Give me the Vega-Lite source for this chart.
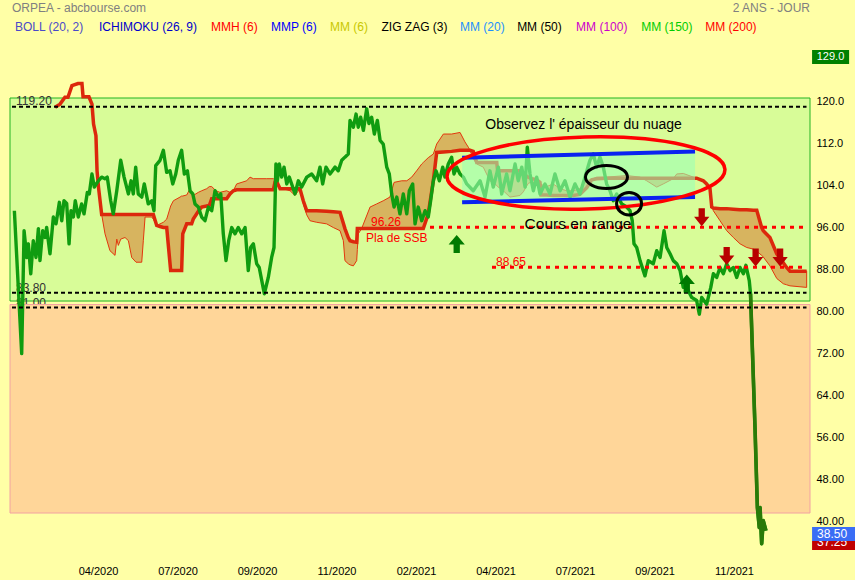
{
"$schema": "https://vega.github.io/schema/vega-lite/v6.json",
"width": 808, "height": 499,
"autosize": {"type": "none"},
"padding": {"left": 0, "top": 50, "right": 47, "bottom": 31},
"background": "#FFFFA6",
"config": {"view": {"stroke": null}, "font": "Liberation Sans"},
"datasets": {
"price": [
{"d":-2.6,"v":99.4},{"d":2.0,"v":72.2},{"d":3.5,"v":95.6},{"d":5.2,"v":90.5},{"d":6.2,"v":93.1},{"d":7.7,"v":87.4},{"d":9.3,"v":93.7},{"d":11.0,"v":90.5},{"d":12.5,"v":96},{"d":13.5,"v":89.9},{"d":15.2,"v":95.6},{"d":16.7,"v":94.3},{"d":17.7,"v":96.2},{"d":19.8,"v":91.2},{"d":21.9,"v":98.2},{"d":23.6,"v":96.9},{"d":25.7,"v":101},{"d":27.2,"v":97.5},{"d":28.6,"v":101.3},{"d":30.3,"v":100.8},{"d":31.8,"v":93.1},{"d":33.0,"v":99.4},{"d":34.5,"v":98.2},{"d":35.7,"v":101.3},{"d":37.6,"v":98.2},{"d":39.7,"v":100.7},{"d":41.2,"v":98.8},{"d":43.3,"v":102.9},{"d":44.5,"v":102.6},{"d":46.2,"v":106.4},{"d":47.7,"v":103.9},{"d":50.2,"v":105.1},{"d":52.3,"v":105.8},{"d":54.4,"v":105.5},{"d":55.8,"v":105.8},{"d":58.0,"v":101.3},{"d":59.6,"v":98.8},{"d":61.8,"v":103.2},{"d":64.3,"v":109},{"d":66.4,"v":105.8},{"d":69.1,"v":102.6},{"d":70.8,"v":105.1},{"d":72.2,"v":102.6},{"d":73.7,"v":107.7},{"d":75.3,"v":102.6},{"d":77.5,"v":102},{"d":79.1,"v":104.5},{"d":81.6,"v":100.7},{"d":83.8,"v":101.3},{"d":85.2,"v":99.4},{"d":86.3,"v":108},{"d":89.0,"v":109},{"d":91.1,"v":110.9},{"d":93.2,"v":106.7},{"d":95.3,"v":107},{"d":97.0,"v":104.5},{"d":98.9,"v":106.4},{"d":100.5,"v":109},{"d":102.6,"v":110.9},{"d":104.3,"v":106.4},{"d":106.2,"v":107},{"d":107.9,"v":103.2},{"d":109.6,"v":102.6},{"d":111.0,"v":100.7},{"d":113.1,"v":100.1},{"d":115.2,"v":98.2},{"d":117.3,"v":97.5},{"d":119.4,"v":100.1},{"d":121.5,"v":99.4},{"d":123.6,"v":103.2},{"d":125.7,"v":102},{"d":127.2,"v":102.6},{"d":128.8,"v":95},{"d":130.5,"v":89.9},{"d":132.2,"v":93.7},{"d":134.1,"v":96.2},{"d":136.2,"v":95},{"d":138.2,"v":96.2},{"d":140.4,"v":95},{"d":142.5,"v":96.2},{"d":144.5,"v":88},{"d":146.0,"v":92.4},{"d":147.7,"v":93.1},{"d":149.8,"v":89.3},{"d":151.4,"v":88.6},{"d":153.0,"v":86.1},{"d":154.6,"v":83.6},{"d":157.1,"v":86.7},{"d":159.2,"v":90.5},{"d":160.7,"v":92.4},{"d":161.9,"v":108.3},{"d":162.8,"v":105.1},{"d":164.0,"v":108.3},{"d":165.5,"v":105.8},{"d":167.0,"v":107.7},{"d":168.7,"v":104.5},{"d":170.3,"v":105.8},{"d":171.8,"v":104.5},{"d":173.9,"v":102.6},{"d":176.0,"v":105.1},{"d":178.1,"v":103.9},{"d":181.3,"v":105.8},{"d":184.4,"v":106.4},{"d":187.5,"v":105.1},{"d":189.6,"v":107.7},{"d":191.3,"v":104.5},{"d":193.4,"v":107.7},{"d":195.9,"v":106.4},{"d":199.1,"v":107.7},{"d":201.1,"v":107},{"d":203.3,"v":109},{"d":205.3,"v":109.6},{"d":207.4,"v":110.2},{"d":208.5,"v":116.6},{"d":210.6,"v":115.3},{"d":212.3,"v":117.8},{"d":213.7,"v":115.3},{"d":215.2,"v":117.2},{"d":216.9,"v":114.7},{"d":219.0,"v":118.8},{"d":220.4,"v":116},{"d":222.1,"v":117.2},{"d":223.8,"v":114},{"d":225.7,"v":116.6},{"d":227.4,"v":112.8},{"d":229.4,"v":112.1},{"d":231.6,"v":107.7},{"d":233.2,"v":106.4},{"d":234.7,"v":102.6},{"d":236.2,"v":100.1},{"d":237.9,"v":102},{"d":239.9,"v":98.8},{"d":242.0,"v":102.6},{"d":244.2,"v":98.8},{"d":245.8,"v":103.2},{"d":247.9,"v":104.5},{"d":249.4,"v":96.9},{"d":251.4,"v":100.1},{"d":253.6,"v":97.5},{"d":255.7,"v":99.4},{"d":257.7,"v":98.2},{"d":259.2,"v":101.3},{"d":260.9,"v":105.1},{"d":262.6,"v":107},{"d":264.7,"v":105.1},{"d":266.8,"v":107.7},{"d":268.2,"v":105.8},{"d":270.3,"v":108.3},{"d":272.4,"v":109.6},{"d":273.9,"v":106.4},{"d":275.6,"v":107.7},{"d":277.7,"v":106.4},{"d":279.8,"v":105.8},{"d":281.9,"v":104.5},{"d":286.0,"v":103.2},{"d":290.3,"v":105.1},{"d":293.4,"v":102},{"d":296.5,"v":107},{"d":298.6,"v":103.9},{"d":301.8,"v":107.7},{"d":303.9,"v":102.6},{"d":307.0,"v":106.4},{"d":309.1,"v":103.2},{"d":312.3,"v":108.3},{"d":314.3,"v":105.1},{"d":316.5,"v":107.7},{"d":318.6,"v":103.9},{"d":320.0,"v":111.5},{"d":321.7,"v":106.4},{"d":323.8,"v":103.2},{"d":325.9,"v":105.8},{"d":328.0,"v":102.6},{"d":331.1,"v":104.5},{"d":334.3,"v":102.6},{"d":337.4,"v":106.4},{"d":340.6,"v":103.2},{"d":343.7,"v":105.1},{"d":346.9,"v":102},{"d":350.0,"v":104.5},{"d":353.1,"v":102.6},{"d":356.3,"v":105.8},{"d":359.4,"v":109},{"d":361.5,"v":110.2},{"d":363.6,"v":107.7},{"d":365.7,"v":109.6},{"d":367.8,"v":107.7},{"d":369.9,"v":104.5},{"d":372.0,"v":103.2},{"d":374.1,"v":101.3},{"d":376.2,"v":102.6},{"d":379.4,"v":100.7},{"d":382.5,"v":100.1},{"d":384.6,"v":99.4},{"d":386.0,"v":97.5},{"d":387.1,"v":93.1},{"d":388.8,"v":92.4},{"d":390.9,"v":89.9},{"d":394.0,"v":87},{"d":396.1,"v":89.9},{"d":399.2,"v":89.3},{"d":401.4,"v":91.8},{"d":403.5,"v":90.5},{"d":406.0,"v":95.6},{"d":407.7,"v":92.4},{"d":409.8,"v":91.2},{"d":411.8,"v":89.9},{"d":414.0,"v":89.3},{"d":416.1,"v":88},{"d":418.1,"v":84.8},{"d":420.3,"v":84.8},{"d":423.4,"v":82.9},{"d":426.5,"v":82.3},{"d":428.2,"v":79.7},{"d":429.7,"v":82.9},{"d":432.8,"v":81.6},{"d":435.4,"v":84.8},{"d":437.0,"v":87.4},{"d":439.1,"v":86.7},{"d":441.2,"v":88.6},{"d":443.3,"v":87.4},{"d":445.4,"v":89.3},{"d":447.5,"v":88},{"d":449.6,"v":88.6},{"d":451.7,"v":86.7},{"d":453.8,"v":88.6},{"d":455.9,"v":87.4},{"d":457.5,"v":89},{"d":459.6,"v":86.1},{"d":460.4,"v":83.6},{"d":461.1,"v":77.2},{"d":463.2,"v":58.2},{"d":464.7,"v":42.9},{"d":465.9,"v":39.1},{"d":466.4,"v":42.9},{"d":467.4,"v":36},{"d":468.4,"v":40.4},{"d":470.1,"v":38.5}
],
"crash": [
{"d":460.4,"v":83.6},{"d":461.1,"v":77.2},{"d":463.2,"v":58.2},{"d":464.7,"v":42.9},{"d":465.9,"v":39.1},{"d":466.4,"v":42.9},{"d":467.4,"v":36},{"d":468.4,"v":40.4},{"d":470.1,"v":38.5}
],
"cloud": [
{"d":23.0,"v":119.1,"v2":119.1},{"d":26.1,"v":119.7,"v2":119.7},{"d":29.2,"v":121,"v2":121},{"d":31.1,"v":121,"v2":121},{"d":33.6,"v":123.2,"v2":123.2},{"d":37.4,"v":123.6,"v2":123.6},{"d":39.9,"v":123.6,"v2":123.6},{"d":40.6,"v":121.1,"v2":121.1},{"d":44.3,"v":121.1,"v2":121.1},{"d":46.2,"v":119.7,"v2":119.7},{"d":47.2,"v":115.9,"v2":115.9},{"d":48.7,"v":113.7,"v2":113.7},{"d":49.4,"v":107,"v2":107},{"d":50.3,"v":103.9,"v2":103.9},{"d":52.3,"v":98.7,"v2":98.7},{"d":54.4,"v":98.7,"v2":95},{"d":57.5,"v":98.7,"v2":91.8},{"d":60.7,"v":98.7,"v2":90.9},{"d":61.8,"v":98.7,"v2":94},{"d":62.8,"v":98.7,"v2":92.8},{"d":64.3,"v":98.7,"v2":94},{"d":67.0,"v":98.7,"v2":94.3},{"d":69.1,"v":98.7,"v2":93.7},{"d":71.2,"v":98.7,"v2":90.5},{"d":73.9,"v":98.7,"v2":89.6},{"d":77.5,"v":98.7,"v2":89.6},{"d":78.5,"v":98.7,"v2":93.7},{"d":79.6,"v":98.7,"v2":98.2},{"d":83.8,"v":98.7,"v2":98.2},{"d":84.8,"v":98.7,"v2":97.8},{"d":86.9,"v":96.6,"v2":96.6},{"d":89.0,"v":96.4,"v2":96.9},{"d":91.1,"v":96.2,"v2":97.2},{"d":93.2,"v":96.2,"v2":97.8},{"d":95.7,"v":88,"v2":100.3},{"d":97.4,"v":88,"v2":101.3},{"d":101.6,"v":88,"v2":102},{"d":102.6,"v":88,"v2":102.2},{"d":103.3,"v":95,"v2":102.2},{"d":105.8,"v":96.9,"v2":102.4},{"d":107.9,"v":96.9,"v2":103.6},{"d":108.9,"v":96.9,"v2":102.8},{"d":109.9,"v":97.8,"v2":102.3},{"d":113.1,"v":99.3,"v2":102.9},{"d":115.2,"v":100.1,"v2":103.2},{"d":118.4,"v":100.3,"v2":103.6},{"d":120.0,"v":100.4,"v2":104},{"d":121.5,"v":101.7,"v2":104},{"d":124.2,"v":101.7,"v2":103.2},{"d":126.7,"v":101.7,"v2":102.9},{"d":130.9,"v":101.7,"v2":103.2},{"d":133.0,"v":102.6,"v2":102.9},{"d":135.1,"v":103.2,"v2":103.2},{"d":137.2,"v":103.4,"v2":104.5},{"d":143.5,"v":103.4,"v2":105.1},{"d":145.6,"v":103.4,"v2":105.8},{"d":147.7,"v":103.4,"v2":105.5},{"d":156.1,"v":103.4,"v2":105.5},{"d":160.3,"v":103.4,"v2":105.5},{"d":161.3,"v":104.8,"v2":105.3},{"d":162.6,"v":104.8,"v2":104.5},{"d":164.5,"v":103.6,"v2":103.8},{"d":166.5,"v":103.6,"v2":103.6},{"d":170.8,"v":103.6,"v2":103.2},{"d":173.9,"v":103.6,"v2":102.3},{"d":177.0,"v":103.6,"v2":103.6},{"d":179.1,"v":101.3,"v2":100.7},{"d":181.3,"v":99.4,"v2":98.6},{"d":183.3,"v":99.4,"v2":97.5},{"d":187.5,"v":99.4,"v2":97.2},{"d":193.8,"v":99.3,"v2":96.9},{"d":198.0,"v":99.2,"v2":96.2},{"d":202.2,"v":99.1,"v2":95.6},{"d":204.3,"v":97,"v2":93.7},{"d":205.3,"v":96,"v2":89.9},{"d":207.4,"v":94.3,"v2":89.3},{"d":208.5,"v":93.7,"v2":89.1},{"d":210.6,"v":93.5,"v2":88.9},{"d":212.7,"v":93.4,"v2":89.9},{"d":213.1,"v":96,"v2":92},{"d":213.7,"v":96,"v2":95},{"d":215.8,"v":96,"v2":96},{"d":221.1,"v":96,"v2":100.1},{"d":225.3,"v":96,"v2":100.7},{"d":229.4,"v":96,"v2":101.3},{"d":233.6,"v":96,"v2":102},{"d":236.2,"v":96,"v2":104.8},{"d":241.0,"v":96,"v2":105.1},{"d":244.2,"v":96,"v2":105.1},{"d":247.3,"v":96,"v2":105.8},{"d":250.4,"v":96,"v2":107},{"d":253.6,"v":96,"v2":108.3},{"d":254.6,"v":96,"v2":108.6},{"d":257.7,"v":98.8,"v2":109.5},{"d":260.9,"v":105.1,"v2":110.2},{"d":263.0,"v":110.5,"v2":112.1},{"d":267.2,"v":110.6,"v2":114},{"d":272.4,"v":110.7,"v2":114},{"d":277.7,"v":110.9,"v2":114.3},{"d":280.8,"v":110.9,"v2":112.5},{"d":282.9,"v":110.9,"v2":111.5},{"d":284.0,"v":110.9,"v2":110.9},{"d":286.0,"v":110.7,"v2":109.3},{"d":288.2,"v":108.6,"v2":108.3},{"d":292.3,"v":108.6,"v2":107.7},{"d":296.5,"v":108.6,"v2":105.1},{"d":300.8,"v":108.6,"v2":104.2},{"d":301.3,"v":107,"v2":104},{"d":304.9,"v":107,"v2":103.2},{"d":309.1,"v":107,"v2":102},{"d":315.4,"v":107,"v2":102.3},{"d":317.5,"v":106.4,"v2":103},{"d":320.6,"v":105.8,"v2":104.6},{"d":322.8,"v":105.5,"v2":104.9},{"d":325.9,"v":105.3,"v2":104.5},{"d":328.0,"v":104.8,"v2":104.5},{"d":328.6,"v":102.4,"v2":104.4},{"d":332.2,"v":102.4,"v2":104},{"d":336.3,"v":102.3,"v2":104.5},{"d":340.6,"v":102.3,"v2":103.6},{"d":344.8,"v":102.3,"v2":103.2},{"d":348.9,"v":102.3,"v2":103.2},{"d":353.1,"v":102.5,"v2":103.6},{"d":357.4,"v":103.8,"v2":105.1},{"d":360.5,"v":105.3,"v2":105.4},{"d":363.6,"v":105.5,"v2":105.8},{"d":369.9,"v":105.6,"v2":105.8},{"d":382.5,"v":105.6,"v2":106.1},{"d":390.9,"v":105.6,"v2":105.8},{"d":395.1,"v":105.6,"v2":105.1},{"d":401.4,"v":105.6,"v2":103.9},{"d":405.5,"v":105.6,"v2":104.5},{"d":411.8,"v":105.6,"v2":105.5},{"d":414.0,"v":105.6,"v2":106.4},{"d":418.1,"v":105.6,"v2":106.5},{"d":424.4,"v":105.6,"v2":105.8},{"d":426.5,"v":105.6,"v2":105.6},{"d":430.7,"v":105.1,"v2":105.1},{"d":432.8,"v":104.5,"v2":104.6},{"d":434.9,"v":103.6,"v2":103.8},{"d":436.0,"v":100.1,"v2":101.3},{"d":437.0,"v":99.9,"v2":99.4},{"d":441.2,"v":99.8,"v2":97.5},{"d":445.4,"v":99.8,"v2":95.6},{"d":449.6,"v":99.7,"v2":94.3},{"d":453.8,"v":99.6,"v2":93.1},{"d":458.0,"v":99.6,"v2":92.4},{"d":462.1,"v":99.5,"v2":92.1},{"d":464.3,"v":99.5,"v2":91.7},{"d":467.4,"v":96.2,"v2":90.9},{"d":468.4,"v":95.6,"v2":90.6},{"d":472.6,"v":94.3,"v2":88.9},{"d":476.9,"v":91.2,"v2":86.5},{"d":481.0,"v":89.5,"v2":85.5},{"d":483.1,"v":88.6,"v2":85.3},{"d":485.2,"v":87.9,"v2":85.1},{"d":495.7,"v":87.9,"v2":84.8}
]
},
"encoding": {
"x": {"field": "d", "type": "quantitative", "scale": {"domain": [-11.64, 496.54], "nice": false, "zero": false},
 "axis": {"values": [50,100,150,200,250,300,350,400,450], "labelExpr": "datum.value == 50 ? '04/2020' : datum.value == 100 ? '07/2020' : datum.value == 150 ? '09/2020' : datum.value == 200 ? '11/2020' : datum.value == 250 ? '02/2021' : datum.value == 300 ? '04/2021' : datum.value == 350 ? '07/2021' : datum.value == 400 ? '09/2021' : '11/2021'", "domain": false, "ticks": false, "grid": false, "title": null, "labelPadding": 16, "labelFontSize": 11, "labelColor": "#000000", "labelFont": "Liberation Sans"}},
"y": {"field": "v", "type": "quantitative", "scale": {"domain": [35, 130], "nice": false, "zero": false},
 "axis": {"orient": "right", "values": [40,48,56,64,72,80,88,96,104,112,120], "labelExpr": "datum.value >= 104 ? format(datum.value, '.1f') : format(datum.value, '.2f')", "domain": false, "ticks": false, "grid": false, "title": null, "labelPadding": 8, "labelFontSize": 11, "labelColor": "#000000", "labelFont": "Liberation Sans", "labelOffset": -1}}
},
"layer": [
{"data": {"values": [{"d": -5.35, "d2": 497.8, "v": 120.86, "v2": 82.21}]},
 "mark": {"type": "rect", "fill": "#D8FC98", "stroke": "#22B422", "strokeWidth": 1},
 "encoding": {"x2": {"field": "d2"}, "y2": {"field": "v2"}}},
{"data": {"values": [{"d": -1.57, "v": 120.2, "t": "119.20"}, {"d": -1.57, "v": 84.69, "t": "83.80"}, {"d": -1.57, "v": 81.83, "t": "81.00"}]},
 "mark": {"type": "text", "align": "left", "baseline": "middle", "fontSize": 12, "fill": "#333333"},
 "encoding": {"text": {"field": "t"}}},
{"data": {"values": [{"d": -5.35, "d2": 497.8, "v": 81.55, "v2": 41.85}]},
 "mark": {"type": "rect", "fill": "#FFD699", "stroke": "#F2A2A2", "strokeWidth": 1},
 "encoding": {"x2": {"field": "d2"}, "y2": {"field": "v2"}}},
{"data": {"name": "cloud"},
 "mark": {"type": "area", "fill": "#D7B45F", "stroke": "#E2380E", "strokeWidth": 1, "opacity": 1},
 "encoding": {"y2": {"field": "v2"}}},
{"data": {"name": "cloud"},
 "mark": {"type": "line", "stroke": "#DC280C", "strokeWidth": 3.5, "strokeJoin": "miter"},
 "encoding": {}},
{"data": {"name": "price"},
 "mark": {"type": "line", "stroke": "#109C10", "strokeWidth": 3.4, "strokeJoin": "round"},
 "encoding": {}},
{"data": {"name": "crash"},
 "mark": {"type": "line", "stroke": "#2A7A08", "strokeWidth": 3.6, "strokeJoin": "round"},
 "encoding": {}},
{"data": {"values": [{"d": 279.0, "v": 109.5, "v2": 101.0}, {"d": 425.5, "v": 110.7, "v2": 102.0}]},
 "mark": {"type": "area", "fill": "#9DFFB4", "opacity": 0.6},
 "encoding": {"y2": {"field": "v2"}}},
{"data": {"values": [{"d": 279.0, "d2": 425.5, "v": 109.5, "v2": 110.7}, {"d": 279.0, "d2": 425.5, "v": 101.0, "v2": 102.0}]},
 "mark": {"type": "rule", "stroke": "#0A22F0", "strokeWidth": 4},
 "encoding": {"x2": {"field": "d2"}, "y2": {"field": "v2"}}},
{"data": {"values": [{"d": -4.09, "d2": 495.6, "v": 119.2}, {"d": -4.09, "d2": 495.6, "v": 83.8}, {"d": -4.09, "d2": 495.6, "v": 81.0}]},
 "mark": {"type": "rule", "stroke": "#000000", "strokeWidth": 2, "strokeDash": [4, 3]},
 "encoding": {"x2": {"field": "d2"}}},
{"data": {"values": [{"d": 258.8, "d2": 495.6, "v": 96.26}, {"d": 297.8, "d2": 495.6, "v": 88.65}]},
 "mark": {"type": "rule", "stroke": "#FF0000", "strokeWidth": 3, "strokeDash": [4, 5]},
 "encoding": {"x2": {"field": "d2"}}},
{"data": {"values": [{"d": 356.9, "v": 106.58}]},
 "mark": {"type": "point", "shape": "M-1,0C-1,-0.143,-0.552,-0.259,0,-0.259C0.552,-0.259,1,-0.143,1,0C1,0.143,0.552,0.259,0,0.259C-0.552,0.259,-1,0.143,-1,0Z", "size": 77284, "angle": -1.5, "filled": false, "stroke": "#FF0000", "strokeWidth": 3.5, "opacity": 1},
 "encoding": {}},
{"data": {"values": [{"d": 369.8, "v": 105.82}]},
 "mark": {"type": "point", "shape": "M-1,0C-1,-0.304,-0.552,-0.55,0,-0.55C0.552,-0.55,1,-0.304,1,0C1,0.304,0.552,0.55,0,0.55C-0.552,0.55,-1,0.304,-1,0Z", "size": 1764, "filled": false, "stroke": "#000000", "strokeWidth": 3, "opacity": 1},
 "encoding": {}},
{"data": {"values": [{"d": 384.0, "v": 100.74}]},
 "mark": {"type": "point", "shape": "M-1,0C-1,-0.497,-0.552,-0.9,0,-0.9C0.552,-0.9,1,-0.497,1,0C1,0.497,0.552,0.9,0,0.9C-0.552,0.9,-1,0.497,-1,0Z", "size": 625, "filled": false, "stroke": "#000000", "strokeWidth": 3, "opacity": 1},
 "encoding": {}},
{"data": {"values": [{"d": 275.6, "v": 93.07}, {"d": 420.3, "v": 85.55}]},
 "mark": {"type": "point", "shape": "M-0.35,1L0.35,1L0.35,0.05L0.9,0.05L0,-1L-0.9,0.05L-0.35,0.05Z", "size": 324, "filled": true, "fill": "#007A00", "stroke": null, "opacity": 1},
 "encoding": {}},
{"data": {"values": [{"d": 429.7, "v": 98.15}, {"d": 445.4, "v": 90.78}, {"d": 463.6, "v": 90.5}, {"d": 479.0, "v": 90.5}]},
 "mark": {"type": "point", "shape": "M-0.35,-1L0.35,-1L0.35,-0.05L0.85,-0.05L0,1L-0.85,-0.05L-0.35,-0.05Z", "size": 324, "filled": true, "fill": "#B80000", "stroke": null, "opacity": 1},
 "encoding": {}},
{"data": {"values": [{"d": 355.4, "v": 115.72, "t": "Observez l' épaisseur du nuage"}]},
 "mark": {"type": "text", "align": "center", "baseline": "middle", "fontSize": 14, "fill": "#000000"},
 "encoding": {"text": {"field": "t"}}},
{"data": {"values": [{"d": 351.9, "v": 96.87, "t": "Cours en range"}]},
 "mark": {"type": "text", "align": "center", "baseline": "middle", "fontSize": 15.5, "fill": "#000000"},
 "encoding": {"text": {"field": "t"}}},
{"data": {"values": [{"d": 221.7, "v": 97.16, "t": "96.26"}, {"d": 218.6, "v": 94.21, "t": "Pla de SSB"}, {"d": 300.3, "v": 89.64, "t": "88.65"}]},
 "mark": {"type": "text", "align": "left", "baseline": "middle", "fontSize": 12, "fill": "#FF0000"},
 "encoding": {"text": {"field": "t"}}},
{"data": {"values": [{"d": -4.09, "v": 138.0, "t": "ORPEA - abcbourse.com"}, {"d": -2.2, "v": 134.38, "t": "BOLL (20, 2)"}, {"d": 50.6, "v": 134.38, "t": "ICHIMOKU (26, 9)"}, {"d": 121.1, "v": 134.38, "t": "MMH (6)"}, {"d": 158.8, "v": 134.38, "t": "MMP (6)"}, {"d": 195.9, "v": 134.38, "t": "MM (6)"}, {"d": 228.3, "v": 134.38, "t": "ZIG ZAG (3)"}, {"d": 277.7, "v": 134.38, "t": "MM (20)"}, {"d": 313.6, "v": 134.38, "t": "MM (50)"}, {"d": 350.7, "v": 134.38, "t": "MM (100)"}, {"d": 391.6, "v": 134.38, "t": "MM (150)"}, {"d": 431.9, "v": 134.38, "t": "MM (200)"}]},
 "mark": {"type": "text", "align": "left", "baseline": "middle", "fontSize": 12},
 "encoding": {"text": {"field": "t"}, "color": {"field": "t", "type": "nominal", "legend": null,
  "scale": {"domain": ["ORPEA - abcbourse.com", "BOLL (20, 2)", "ICHIMOKU (26, 9)", "MMH (6)", "MMP (6)", "MM (6)", "ZIG ZAG (3)", "MM (20)", "MM (50)", "MM (100)", "MM (150)", "MM (200)"],
   "range": ["#808080", "#4A4AC8", "#0000CC", "#FF0000", "#0000FF", "#C8C800", "#000000", "#1E90FF", "#000000", "#CC00CC", "#00CC00", "#FF0000"]}}}},
{"data": {"values": [{"d": 497.8, "v": 138.0, "t": "2 ANS - JOUR"}]},
 "mark": {"type": "text", "align": "right", "baseline": "middle", "fontSize": 12, "fill": "#808080"},
 "encoding": {"text": {"field": "t"}}},
{"data": {"values": [{"d": 499.1, "d2": 522.4, "v": 130.0, "v2": 127.33}]},
 "mark": {"type": "rect", "fill": "#008000"},
 "encoding": {"x2": {"field": "d2"}, "y2": {"field": "v2"}}},
{"data": {"values": [{"d": 510.7, "v": 128.67, "t": "129.0"}]},
 "mark": {"type": "text", "align": "center", "baseline": "middle", "fontSize": 11, "fill": "#FFFFFF"},
 "encoding": {"text": {"field": "t"}}},
{"data": {"values": [{"d": 499.1, "d2": 526.1, "v": 36.52, "v2": 34.81}]},
 "mark": {"type": "rect", "fill": "#C00000"},
 "encoding": {"x2": {"field": "d2"}, "y2": {"field": "v2"}}},
{"data": {"values": [{"d": 511.7, "v": 36.3, "t": "37.25"}]},
 "mark": {"type": "text", "align": "center", "baseline": "middle", "fontSize": 12, "fill": "#FFFFFF"},
 "encoding": {"text": {"field": "t"}}},
{"data": {"values": [{"d": 499.1, "d2": 526.1, "v": 39.19, "v2": 36.52}]},
 "mark": {"type": "rect", "fill": "#3A6DF5"},
 "encoding": {"x2": {"field": "d2"}, "y2": {"field": "v2"}}},
{"data": {"values": [{"d": 511.7, "v": 37.85, "t": "38.50"}]},
 "mark": {"type": "text", "align": "center", "baseline": "middle", "fontSize": 12, "fill": "#FFFFFF"},
 "encoding": {"text": {"field": "t"}}}
]
}
